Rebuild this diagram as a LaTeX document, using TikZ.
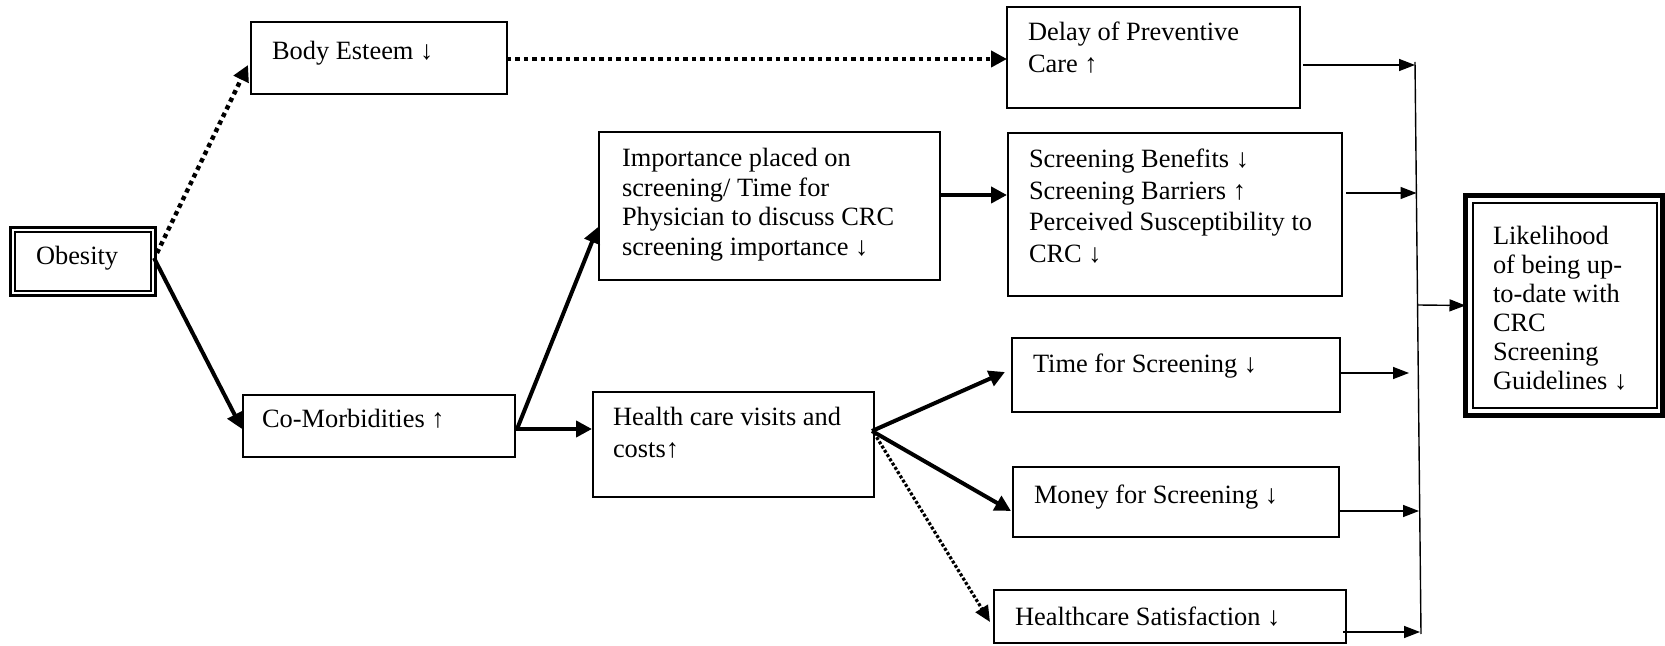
\documentclass[tikz,border=0pt]{standalone}
\usepackage{fontspec}
\setmainfont{Liberation Serif}
\usetikzlibrary{arrows.meta,calc,fit}
\begin{document}
\begin{tikzpicture}[x=0.5pt,y=-0.5pt,
  box/.style={draw, line width=0.7pt, inner sep=0pt, outer sep=0pt},
  lbl/.style={anchor=base west, inner sep=0pt, outer sep=0pt, align=left, font=\fontsize{13.2}{14.5}\selectfont},
  thickarr/.style={line width=2pt, -{Triangle[length=8pt,width=8pt]}},
  thinarr/.style={line width=0.7pt, -{Triangle[length=8pt,width=6pt]}},
  dotarr/.style={line width=2.2pt, dash pattern=on 2.2pt off 2pt, -{Triangle[length=8pt,width=8pt]}},
  finedotarr/.style={line width=1.6pt, dash pattern=on 1.5pt off 1pt, -{Triangle[length=8pt,width=7pt]}},
]
\useasboundingbox (0,0) rectangle (1665,646);

% boxes
\node[box, line width=1.5pt, fit={(10.5,227.5) (155.5,295.5)}] (ob) {};
\draw[line width=1pt] ($(ob.north west)+(4.5,4.5)$) rectangle ($(ob.south east)+(-4.5,-4.5)$);
\node[box, fit={(251,22) (507,94)}] (be) {};
\node[box, fit={(1007,7) (1300,108)}] (de) {};
\node[box, fit={(599,132) (940,280)}] (im) {};
\node[box, fit={(1008,133) (1342,296)}] (sb) {};
\node[box, fit={(243,395) (515,457)}] (cm) {};
\node[box, fit={(593,392) (874,497)}] (hc) {};
\node[box, fit={(1012,338) (1340,412)}] (ts) {};
\node[box, fit={(1013,467) (1339,537)}] (mo) {};
\node[box, fit={(994,590) (1346,643)}] (hs) {};
\node[box, line width=2.5pt, fit={(1465.5,195.5) (1662.5,415.5)}] (lk) {};
\draw[line width=0.7pt] ($(lk.north west)+(7.5,7.5)$) rectangle ($(lk.south east)+(-5.5,-7.5)$);

% texts (multi-line nodes are anchored at the baseline of their last line)
\node[lbl] (tob) at (36,265) {Obesity};
\node[lbl] (tbe) at (272,60) {Body Esteem ↓};
\node[lbl, font=\fontsize{13.2}{16}\selectfont] (tde) at (1028,73) {Delay of Preventive\\Care ↑};
\node[lbl, font=\fontsize{13.2}{14.75}\selectfont] (tim) at (622,255.5) {Importance placed on\\screening/ Time for\\Physician to discuss CRC\\screening importance ↓};
\node[lbl, font=\fontsize{13.2}{15.75}\selectfont] (tsb) at (1029,262.5) {Screening Benefits ↓\\Screening Barriers ↑\\Perceived Susceptibility to\\CRC ↓};
\node[lbl] (tcm) at (262,428) {Co-Morbidities ↑};
\node[lbl, font=\fontsize{13.2}{16}\selectfont] (thc) at (613,458) {Health care visits and\\costs↑};
\node[lbl] (tts) at (1033,373) {Time for Screening ↓};
\node[lbl] (tmo) at (1034,503) {Money for Screening ↓};
\node[lbl] (ths) at (1015,625) {Healthcare Satisfaction ↓};
\node[lbl] (tlk) at (1493,390) {Likelihood\\of being up-\\to-date with\\CRC\\Screening\\Guidelines ↓};

% collector line
\coordinate (vtop) at (1415,62);
\coordinate (vbot) at (1421,634);
\coordinate (e1) at (1415,65);
\coordinate (e2) at (1416.5,193);
\coordinate (e3) at (1409,373);
\coordinate (e4) at (1419,511);
\coordinate (e5) at (1420,632);
\coordinate (vmid) at (1418,305);
\draw[line width=0.7pt] (vtop) -- (vbot);

% connectors
\draw[dotarr] ($(ob.east)+(1.5,-8.5)$) -- ($(be.west)+(-3,7)$);
\draw[thickarr] ($(ob.east)+(-1.5,-3.5)$) -- ($(cm.west)+(-1,3)$);
\draw[dotarr] ($(be.east)+(0,1)$) -- ($(de.west)+(0,1.5)$);
\draw[thickarr] ($(cm.east)+(2,3)$) -- ($(im.west)+(-1,21)$);
\draw[thickarr] ($(cm.east)+(0,3)$) -- ($(hc.west)+(-1,-15.5)$);
\draw[thickarr] ($(im.east)+(0,-11)$) -- ($(sb.west)+(-1,-19.5)$);
\draw[thickarr] ($(hc.east)+(-2,-13.5)$) -- ($(ts.west)+(-7,-3)$);
\draw[thickarr] ($(hc.east)+(-2,-13.5)$) -- ($(mo.west)+(-2,9)$);
\draw[finedotarr] ($(hc.east)+(0,-11.5)$) -- ($(hs.west)+(-4,5.5)$);
\draw[thinarr] ($(de.east)+(3,7.5)$) -- (e1);
\draw[thinarr] ($(sb.east)+(4,-21.5)$) -- (e2);
\draw[thinarr] ($(ts.east)+(1,-2)$) -- (e3);
\draw[thinarr] ($(mo.east)+(1,9)$) -- (e4);
\draw[thinarr] ($(hs.east)+(-3,15.5)$) -- (e5);
\draw[thinarr] (vmid) -- (lk.west);
\end{tikzpicture}
\end{document}
